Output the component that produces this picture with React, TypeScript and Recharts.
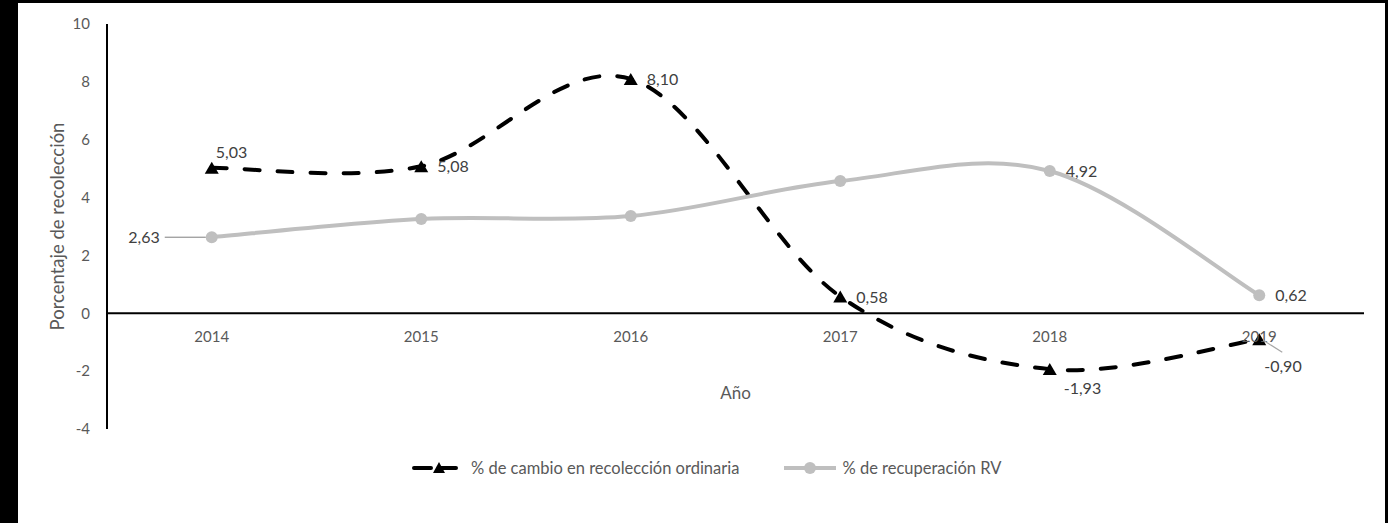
import React from 'react';
import { LineChart, Line, XAxis, YAxis, ReferenceLine, ReferenceDot, Label } from 'recharts';

const years = ['2014', '2015', '2016', '2017', '2018', '2019'];
const cambioOrdinaria = [5.03, 5.08, 8.1, 0.58, -1.93, -0.9];
const recuperacionRV = [2.63, 3.26, 3.36, 4.57, 4.92, 0.62];
const yTicks = [-4, -2, 0, 2, 4, 6, 8, 10];

const cambioName = '% de cambio en recolección ordinaria';
const recuperacionName = '% de recuperación RV';

// where each value label sits relative to its point (null = no label)
const cambioLabelPos = ['topRight', 'right', 'right', 'right', 'bottom', 'bottomRight'];
const recuperacionLabelPos = ['leftLeader', null, null, null, 'right', 'right'];

const data = years.map((year, i) => ({
  year,
  cambio: cambioOrdinaria[i],
  recuperacion: recuperacionRV[i],
}));

const FONT = 'Lato, "Open Sans", sans-serif';
const fmt = (v: number) => v.toFixed(2).replace('.', ',');

// Excel-like smoothed line (Catmull-Rom as cubic Bezier)
function excelCurve(context: any) {
  let pts: [number, number][] = [];
  return {
    areaStart() {},
    areaEnd() {},
    lineStart() {
      pts = [];
    },
    point(x: number, y: number) {
      pts.push([+x, +y]);
    },
    lineEnd() {
      if (!pts.length) return;
      context.moveTo(pts[0][0], pts[0][1]);
      for (let i = 0; i < pts.length - 1; i++) {
        const p0 = pts[i - 1] || pts[i];
        const p1 = pts[i];
        const p2 = pts[i + 1];
        const p3 = pts[i + 2] || p2;
        context.bezierCurveTo(
          p1[0] + (p2[0] - p0[0]) / 6,
          p1[1] + (p2[1] - p0[1]) / 6,
          p2[0] - (p3[0] - p1[0]) / 6,
          p2[1] - (p3[1] - p1[1]) / 6,
          p2[0],
          p2[1]
        );
      }
    },
  };
}

const Triangle = (props: any) => {
  const { cx, cy } = props;
  if (cx == null || cy == null) return null;
  return <path d={`M${cx},${cy - 6}L${cx + 7},${cy + 6}L${cx - 7},${cy + 6}Z`} fill="#000" />;
};

const makeLabel = (positions: (string | null)[]) => (props: any) => {
  const { x, y, index, value } = props;
  const pos = positions[index];
  if (!pos) return null;
  const common = { fontFamily: FONT, fontSize: 16, fill: '#404040' };
  const t = fmt(value);
  switch (pos) {
    case 'topRight':
      return <text x={x + 4} y={y - 10} {...common}>{t}</text>;
    case 'right':
      return <text x={x + 16} y={y + 6} {...common}>{t}</text>;
    case 'bottom':
      return <text x={x + 14} y={y + 25} {...common}>{t}</text>;
    case 'bottomRight':
      return (
        <g>
          <line x1={x + 4} y1={y + 1} x2={x + 23} y2={y + 13} stroke="#a6a6a6" strokeWidth={1.2} />
          <text x={x + 5} y={y + 33} {...common}>{t}</text>
        </g>
      );
    case 'leftLeader':
      return (
        <g>
          <line x1={x - 47} y1={y} x2={x - 6} y2={y} stroke="#7f7f7f" strokeWidth={1} />
          <text x={x - 52} y={y + 6} textAnchor="end" {...common}>{t}</text>
        </g>
      );
    default:
      return null;
  }
};

const LegendIcon = ({ kind }: { kind: 'tri' | 'dot' }) => (
  <svg width={54} height={14} style={{ marginRight: 5 }}>
    {kind === 'tri' ? (
      <>
        <line x1={2} y1={7} x2={52} y2={7} stroke="#000" strokeWidth={4} strokeDasharray="17 8" strokeLinecap="round" />
        <path d="M27,1L33,12L21,12Z" fill="#000" />
      </>
    ) : (
      <>
        <line x1={1} y1={7} x2={53} y2={7} stroke="#bfbfbf" strokeWidth={4} />
        <circle cx={27} cy={7} r={6} fill="#bfbfbf" />
      </>
    )}
  </svg>
);

export default function App() {
  return (
    <div style={{ position: 'absolute', left: 0, top: 0, width: 1388, height: 523, background: '#000' }}>
      <div style={{ position: 'absolute', left: 18, top: 3, width: 1367, height: 520, background: '#fff' }}>
        <LineChart
          width={1367}
          height={520}
          data={data}
          margin={{ top: 21, right: 21, left: 0, bottom: 94 }}
        >
          <XAxis dataKey="year" hide scale="band" />
          <YAxis
            width={89}
            domain={[-4, 10]}
            ticks={yTicks}
            interval={0}
            tickLine={false}
            axisLine={{ stroke: '#000', strokeWidth: 2 }}
            tickMargin={11}
            tick={{ fill: '#595959', fontSize: 15, fontFamily: FONT }}
          >
            <Label
              content={({ viewBox }: any) => {
                const cx = viewBox.x + 39;
                const cy = viewBox.y + viewBox.height / 2;
                return (
                  <text
                    x={cx}
                    y={cy}
                    transform={`rotate(-90 ${cx} ${cy})`}
                    textAnchor="middle"
                    dominantBaseline="central"
                    fontFamily={FONT}
                    fontSize={18.5}
                    fill="#595959"
                  >
                    Porcentaje de recolección
                  </text>
                );
              }}
            />
          </YAxis>
          <ReferenceLine y={0} stroke="#000" strokeWidth={2} />
          {years.map((year) => (
            <ReferenceDot
              key={year}
              x={year}
              y={0}
              r={0}
              stroke="none"
              fill="none"
              label={{
                value: year,
                position: 'bottom',
                offset: 18,
                fill: '#595959',
                fontSize: 15,
                fontFamily: FONT,
              }}
            />
          ))}
          <ReferenceLine
            y={-2.75}
            stroke="none"
            label={{ value: 'Año', position: 'center', fill: '#595959', fontSize: 17, fontFamily: FONT }}
          />
          <Line
            dataKey="cambio"
            name={cambioName}
            type={excelCurve as any}
            stroke="#000"
            strokeWidth={4}
            strokeDasharray="15 18"
            strokeLinecap="round"
            dot={<Triangle />}
            activeDot={false}
            label={makeLabel(cambioLabelPos)}
            isAnimationActive={false}
          />
          <Line
            dataKey="recuperacion"
            name={recuperacionName}
            type={excelCurve as any}
            stroke="#bfbfbf"
            strokeWidth={4}
            dot={{ r: 6, fill: '#bfbfbf', stroke: 'none' }}
            activeDot={false}
            label={makeLabel(recuperacionLabelPos)}
            isAnimationActive={false}
          />
        </LineChart>
        <div
          style={{
            position: 'absolute',
            left: 394,
            top: 455,
            display: 'flex',
            alignItems: 'center',
            fontFamily: FONT,
            fontSize: 16.5,
            color: '#595959',
            whiteSpace: 'nowrap',
          }}
        >
          <div style={{ display: 'flex', alignItems: 'center', marginRight: 44 }}>
            <LegendIcon kind="tri" />
            <span>{cambioName}</span>
          </div>
          <div style={{ display: 'flex', alignItems: 'center' }}>
            <LegendIcon kind="dot" />
            <span>{recuperacionName}</span>
          </div>
        </div>
      </div>
    </div>
  );
}
